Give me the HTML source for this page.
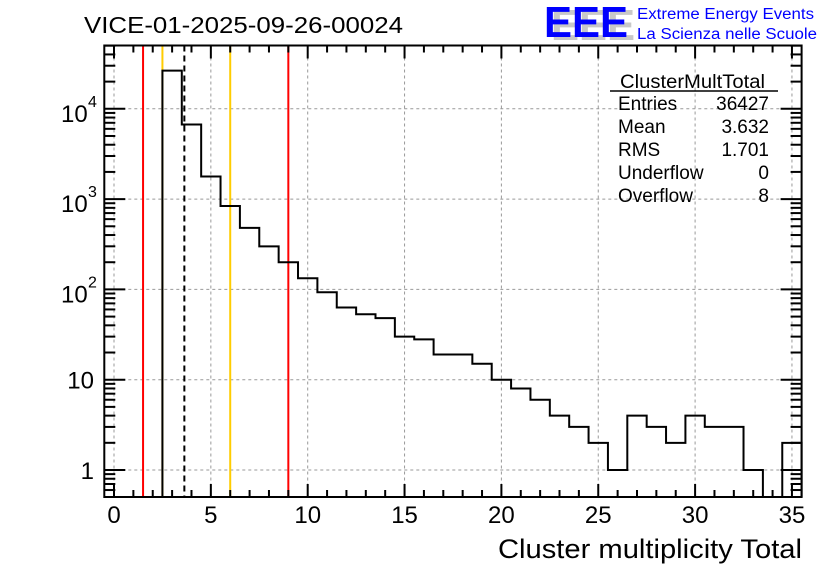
<!DOCTYPE html>
<html><head><meta charset="utf-8"><style>
body{margin:0;background:#fff;}
svg{display:block;font-family:"Liberation Sans",sans-serif;}
</style></head><body>
<svg id="s" width="836" height="572" viewBox="0 0 836 572" xmlns="http://www.w3.org/2000/svg">
<rect width="836" height="572" fill="#fff"/>
<g id="g"></g>
<text x="84" y="33" font-size="23" fill="#000" textLength="319" lengthAdjust="spacingAndGlyphs">VICE-01-2025-09-26-00024</text>
<g font-weight="bold" font-size="44" font-family="Liberation Sans,sans-serif">
<text x="551" y="40" fill="#c8c8c8" textLength="84" lengthAdjust="spacingAndGlyphs">EEE</text>
<text x="544" y="37" fill="#0000ff" textLength="84" lengthAdjust="spacingAndGlyphs">EEE</text>
</g>
<text x="637" y="19" font-size="15.5" fill="#0000ff" textLength="177" lengthAdjust="spacingAndGlyphs">Extreme Energy Events</text>
<text x="637" y="39" font-size="15.5" fill="#0000ff" textLength="180" lengthAdjust="spacingAndGlyphs">La Scienza nelle Scuole</text>
<g font-size="19" fill="#000">
<text x="620" y="88" textLength="145" lengthAdjust="spacingAndGlyphs">ClusterMultTotal</text>
<line x1="610" y1="91" x2="778" y2="91" stroke="#000" stroke-width="1.5"/>
<text x="618" y="110">Entries</text><text x="769" y="110" text-anchor="end">36427</text>
<text x="618" y="133">Mean</text><text x="769" y="133" text-anchor="end">3.632</text>
<text x="618" y="156">RMS</text><text x="769" y="156" text-anchor="end">1.701</text>
<text x="618" y="179">Underflow</text><text x="769" y="179" text-anchor="end">0</text>
<text x="618" y="202">Overflow</text><text x="769" y="202" text-anchor="end">8</text>
</g>
<text x="802" y="558" font-size="27" text-anchor="end" textLength="304" lengthAdjust="spacingAndGlyphs">Cluster multiplicity Total</text>
</svg>
<script>
const NS="http://www.w3.org/2000/svg",g=document.getElementById("g");
const X=v=>114+v*19.37, Y=c=>470-90.3*Math.log10(c);
const L=104.3,R=801.6,T=45.5,B=497;
function el(t,a,p){const e=document.createElementNS(NS,t);for(const k in a)e.setAttribute(k,a[k]);(p||g).appendChild(e);return e;}
function ln(x1,y1,x2,y2,c,w,d){const a={x1,y1,x2,y2,stroke:c,"stroke-width":w};if(d)a["stroke-dasharray"]=d;el("line",a);}
for(let v=0;v<=35;v+=5)ln(X(v),T,X(v),B,"#999",1,"3,3");
for(let e=0;e<=4;e++)ln(L,Y(10**e),R,Y(10**e),"#999",1,"3,3");
ln(X(1.5),T,X(1.5),B,"#ff0000",2);
ln(X(2.5),T,X(2.5),B,"#ffcc00",2);
ln(X(6),T,X(6),B,"#ffcc00",2);
ln(X(9),T,X(9),B,"#ff0000",2);
const c={3:26500,4:6700,5:1780,6:840,7:480,8:300,9:200,10:133,11:93,12:63,13:53,14:48,15:30,16:28,17:19,18:19,19:15,20:10,21:8,22:6,23:4,24:3,25:2,26:1,27:4,28:3,29:2,30:4,31:3,32:3,33:1,34:0,35:2};
let d="M"+X(2.5)+","+B;
for(let b=3;b<=35;b++){const y=c[b]>0?Y(c[b]):B;const x2=Math.min(X(b+0.5),R);d+=" L"+X(b-0.5)+","+y+" L"+x2+","+y;}
d+=" L"+R+","+B;
el("path",{d,fill:"none",stroke:"#000","stroke-width":2});
ln(X(3.632),T,X(3.632),B,"#000",2,"6,4");
el("rect",{x:L,y:T,width:R-L,height:B-T,fill:"none",stroke:"#000","stroke-width":2});
for(let v=0;v<=35;v++){const h=v%5==0?13:7;ln(X(v),B,X(v),B-h,"#000",2);ln(X(v),T,X(v),T+h,"#000",2);}
for(let e=-1;e<=4;e++)for(let m=1;m<=9;m++){const val=m*10**e;const y=Y(val);if(y<T||y>B)continue;const h=m==1?21:11;ln(L,y,L+h,y,"#000",2);ln(R,y,R-h,y,"#000",2);}
[0,5,10,15,20,25,30,35].forEach(v=>{const t=el("text",{x:X(v),y:523,"font-size":24,"text-anchor":"middle"});t.textContent=v;});
[[1,"1"],[10,"10"]].forEach(([v,s])=>{const t=el("text",{x:94,y:Y(v)+9,"font-size":24,"text-anchor":"end"});t.textContent=s;});
[2,3,4].forEach(e=>{const t=el("text",{x:61,y:Y(10**e)+13,"font-size":24});t.textContent="10";const s=el("text",{x:88,y:Y(10**e)-2,"font-size":16});s.textContent=e;});
</script>
</body></html>
